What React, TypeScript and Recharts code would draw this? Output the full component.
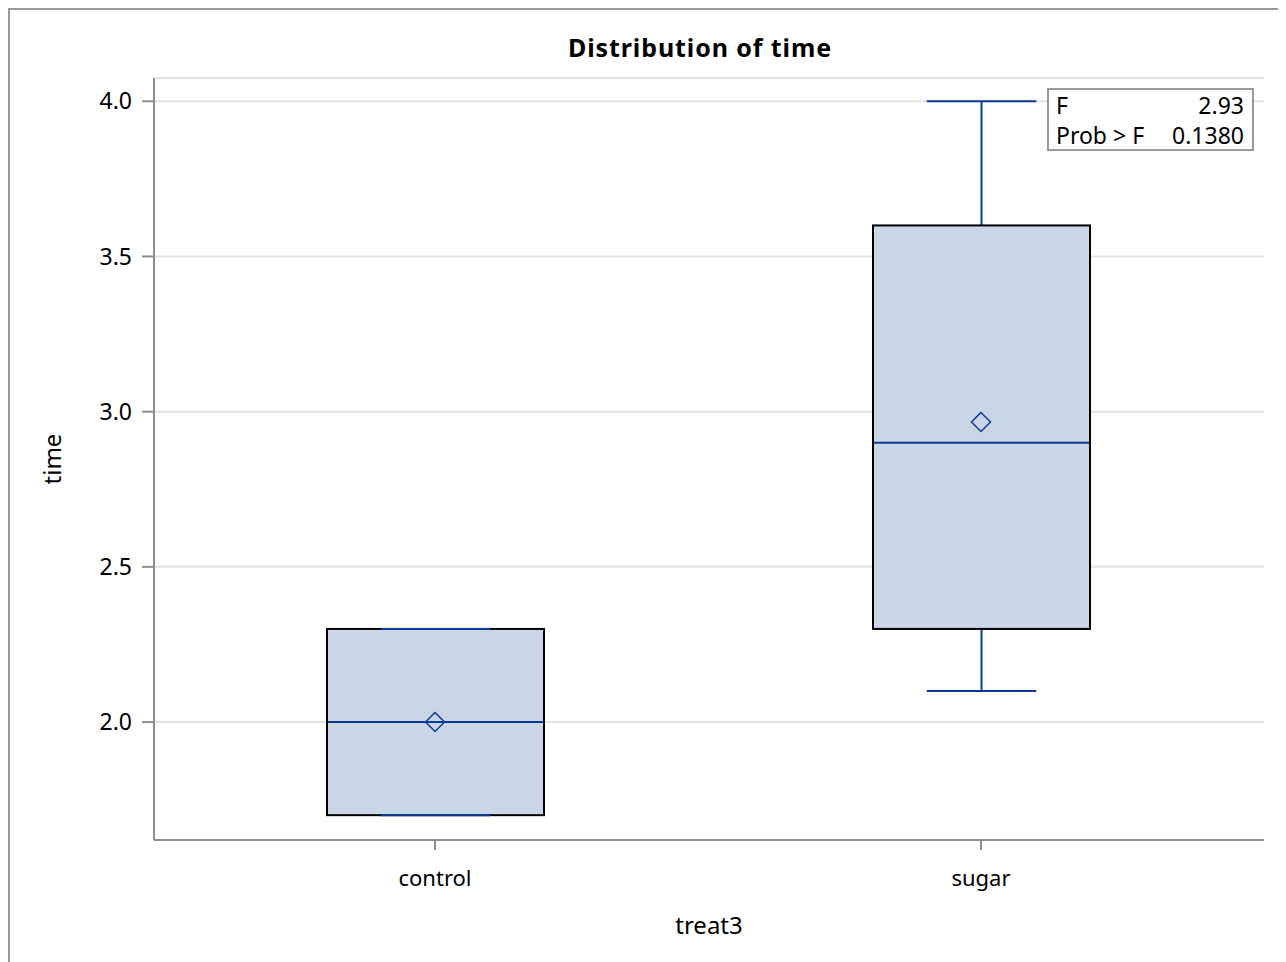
import React from 'react';
import { ComposedChart, Bar, Line, XAxis, YAxis, CartesianGrid } from 'recharts';

const categories = ['control', 'sugar'];
const whiskerLow = [1.7, 2.1];
const quartile1 = [1.7, 2.3];
const medians = [2.0, 2.9];
const quartile3 = [2.3, 3.6];
const whiskerHigh = [2.3, 4.0];
const means = [2.0, 2.967];
const yTicks = [2.0, 2.5, 3.0, 3.5, 4.0];
const statLabels = ['F', 'Prob > F'];
const statValues = ['2.93', '0.1380'];

const data = categories.map((name, i) => ({
  name,
  lo: whiskerLow[i],
  q1: quartile1[i],
  med: medians[i],
  q3: quartile3[i],
  hi: whiskerHigh[i],
  mean: means[i],
  range: [whiskerLow[i], whiskerHigh[i]],
}));

const FONT = '"Noto Sans", sans-serif';
const BLUE = '#0b3a96';
const FILL = '#cad5e5';
const FRAME = '#8e8e8e';

const BoxShape = (props: any) => {
  const { x, y, width, height, payload } = props;
  const { lo, hi, q1, q3, med } = payload;
  const top = Math.min(y, y + height);
  const bottom = Math.max(y, y + height);
  const ppu = (bottom - top) / (hi - lo);
  const py = (v: number) => top + (hi - v) * ppu;
  const cx = x + width / 2;
  const capHalf = width / 4;
  return (
    <g>
      <line x1={cx} x2={cx} y1={py(hi)} y2={py(q3)} stroke={BLUE} strokeWidth={2} />
      <line x1={cx} x2={cx} y1={py(q1)} y2={py(lo)} stroke={BLUE} strokeWidth={2} />
      <rect x={x + 1} y={py(q3)} width={width - 2} height={py(q1) - py(q3)} fill={FILL} stroke="#000" strokeWidth={2} />
      <line x1={x + 2} x2={x + width - 2} y1={py(med)} y2={py(med)} stroke={BLUE} strokeWidth={2} />
      <line x1={cx - capHalf} x2={cx + capHalf} y1={py(hi)} y2={py(hi)} stroke={BLUE} strokeWidth={2} />
      <line x1={cx - capHalf} x2={cx + capHalf} y1={py(lo)} y2={py(lo)} stroke={BLUE} strokeWidth={2} />
    </g>
  );
};

const Diamond = (props: any) => {
  const { cx, cy } = props;
  if (cx == null || cy == null) return null;
  const r = 9.5;
  return (
    <path
      key={`d-${cx}`}
      d={`M${cx},${cy - r}L${cx + r},${cy}L${cx},${cy + r}L${cx - r},${cy}Z`}
      fill="none"
      stroke={BLUE}
      strokeWidth={1.5}
    />
  );
};

export default function App() {
  return (
    <div style={{ position: 'relative', width: 1276, height: 954, fontFamily: FONT }}>
      <style>{'html,body{overflow:hidden}'}</style>
      <div
        style={{
          position: 'absolute',
          left: 0,
          top: 0,
          width: 1272,
          height: 970,
          border: '2px solid #9a9a9a',
          boxSizing: 'content-box',
        }}
      />
      <div
        style={{
          position: 'absolute',
          left: 392,
          width: 600,
          top: 23,
          textAlign: 'center',
          fontSize: 25,
          fontWeight: 700,
          letterSpacing: 0.9,
          color: '#000',
          lineHeight: '32px',
        }}
      >
        Distribution of time
      </div>
      <div style={{ position: 'absolute', left: 0, top: 0 }}>
        <ComposedChart
          width={1276}
          height={954}
          data={data}
          margin={{ top: 70, right: 20, bottom: 22, left: 34 }}
        >
          <CartesianGrid vertical={false} stroke="#e3e3e3" strokeWidth={2} />
          <XAxis
            dataKey="name"
            type="category"
            height={100}
            padding={{ left: 8, right: 10 }}
            axisLine={{ stroke: FRAME, strokeWidth: 2 }}
            tickLine={{ stroke: FRAME, strokeWidth: 2 }}
            tickSize={10}
            tickMargin={20}
            tick={{ fill: '#000', fontSize: 22, fontFamily: FONT }}
            label={{ value: 'treat3', position: 'insideBottom', offset: 6, fill: '#000', fontSize: 24, fontFamily: FONT }}
          />
          <XAxis
            xAxisId="top"
            dataKey="name"
            orientation="top"
            height={0}
            tick={false}
            tickLine={false}
            axisLine={{ stroke: FRAME, strokeWidth: 2 }}
          />
          <YAxis
            type="number"
            domain={[1.62, 4.075]}
            ticks={yTicks}
            allowDataOverflow
            width={112}
            axisLine={{ stroke: FRAME, strokeWidth: 2 }}
            tickLine={{ stroke: FRAME, strokeWidth: 2 }}
            tickSize={12}
            tickMargin={10}
            tickFormatter={(v: number) => v.toFixed(1)}
            tick={{ fill: '#000', fontSize: 23, fontFamily: FONT }}
            label={{ value: 'time', angle: -90, position: 'insideLeft', offset: 10, fill: '#000', fontSize: 24, fontFamily: FONT, style: { textAnchor: 'middle' } }}
          />
          <YAxis
            yAxisId="right"
            orientation="right"
            width={0}
            tick={false}
            tickLine={false}
            axisLine={{ stroke: FRAME, strokeWidth: 2 }}
          />
          <Bar dataKey="range" barSize={219} shape={BoxShape} isAnimationActive={false} />
          <Line dataKey="mean" stroke="none" dot={Diamond} activeDot={false} isAnimationActive={false} />
        </ComposedChart>
      </div>
      <div
        style={{
          position: 'absolute',
          left: 1039,
          top: 80,
          width: 188,
          height: 59,
          border: '2px solid #999',
          background: '#fff',
          fontSize: 23,
          lineHeight: '30px',
          color: '#000',
          padding: '0 8px 0 7px',
          boxSizing: 'content-box',
        }}
      >
        {statLabels.map((l, i) => (
          <div key={l} style={{ display: 'flex', justifyContent: 'space-between', width: 188 }}>
            <span>{l}</span>
            <span>{statValues[i]}</span>
          </div>
        ))}
      </div>
    </div>
  );
}
